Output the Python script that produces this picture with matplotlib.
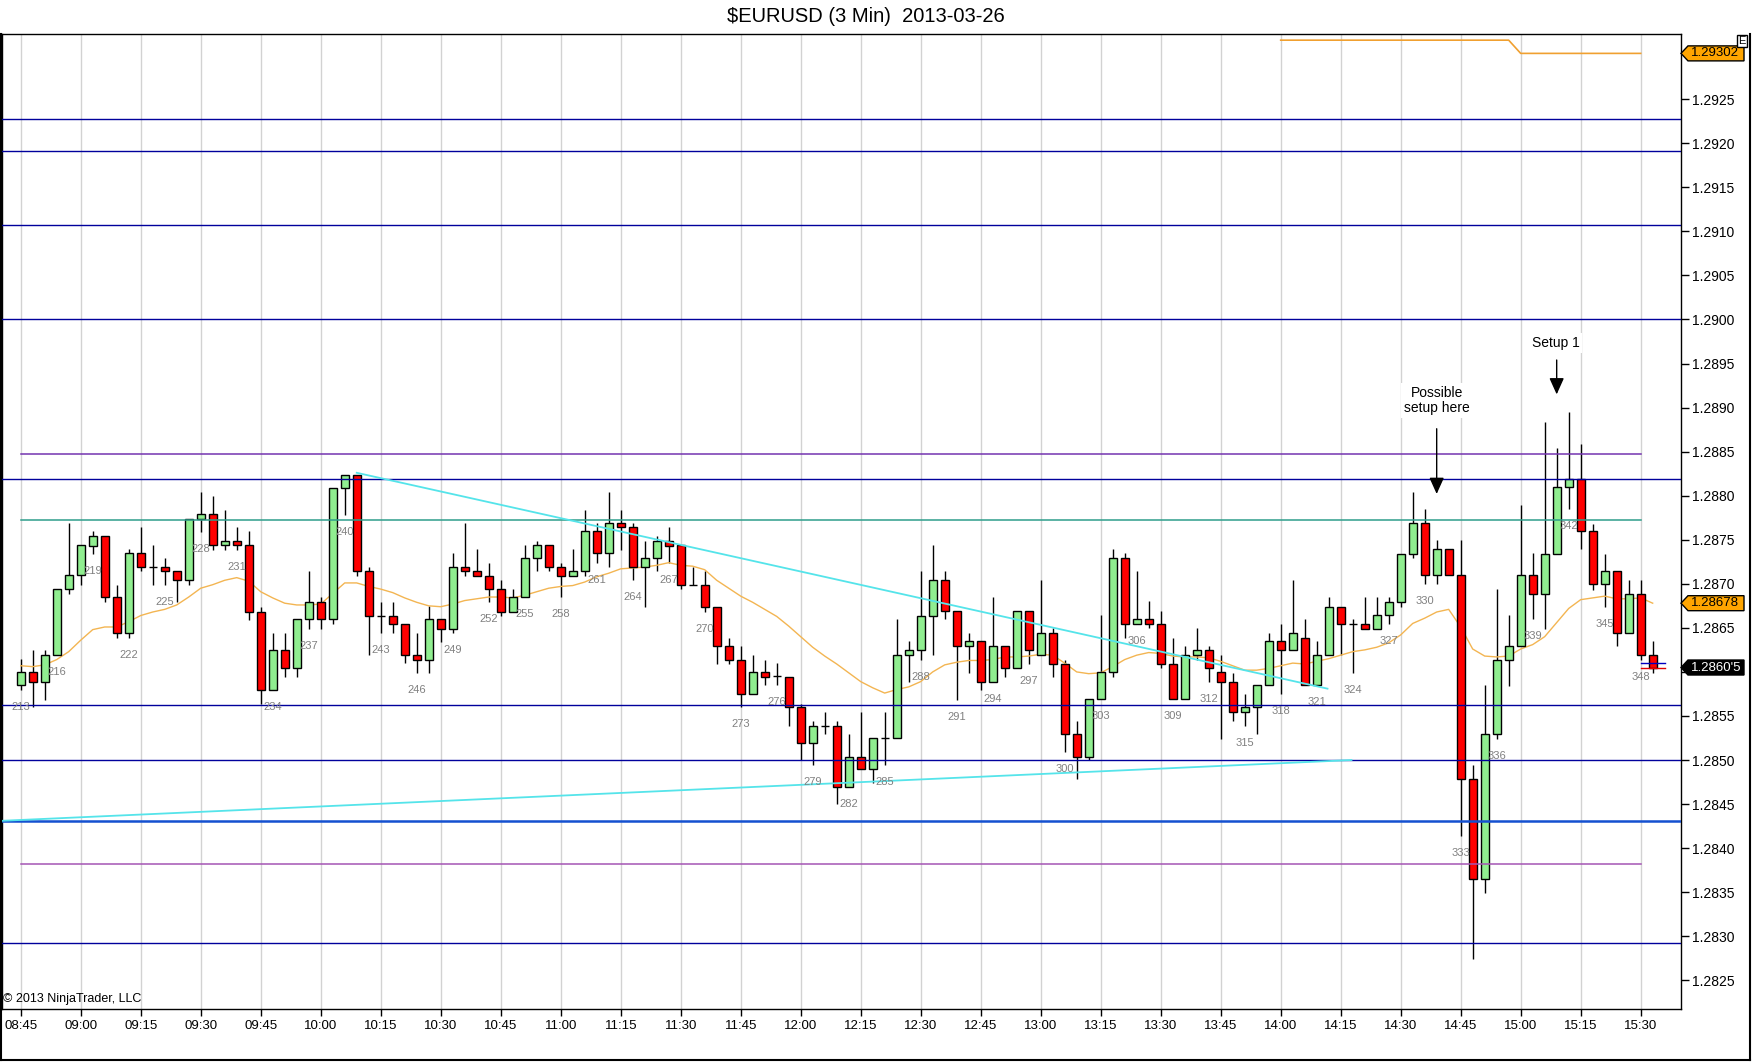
import numpy as np
import matplotlib.pyplot as plt
from matplotlib.patches import Polygon
from matplotlib.lines import Line2D

plt.rcParams['font.family'] = ['Liberation Sans', 'DejaVu Sans']

# ---- data ----
first_bar = 213

opens = [
    1.28585, 1.28600, 1.28589, 1.28619, 1.28694, 1.28710, 1.28743, 1.28754, 1.28685, 1.28644,
    1.28735, 1.28719, 1.28719, 1.28714, 1.28704, 1.28774, 1.28779, 1.28744, 1.28749, 1.28744,
    1.28668, 1.28579, 1.28625, 1.28604, 1.28660, 1.28679, 1.28660, 1.28809, 1.28824, 1.28714,
    1.28664, 1.28664, 1.28654, 1.28619, 1.28614, 1.28660, 1.28649, 1.28719, 1.28714, 1.28709,
    1.28694, 1.28668, 1.28685, 1.28729, 1.28744, 1.28719, 1.28709, 1.28714, 1.28760, 1.28735,
    1.28769, 1.28764, 1.28719, 1.28729, 1.28749, 1.28744, 1.28699, 1.28699, 1.28674, 1.28629,
    1.28614, 1.28575, 1.28600, 1.28595, 1.28594, 1.28560, 1.28519, 1.28539, 1.28539, 1.28469,
    1.28504, 1.28490, 1.28525, 1.28525, 1.28619, 1.28625, 1.28664, 1.28704, 1.28669, 1.28629,
    1.28635, 1.28589, 1.28629, 1.28604, 1.28669, 1.28619, 1.28644, 1.28609, 1.28529, 1.28504,
    1.28569, 1.28600, 1.28729, 1.28654, 1.28660, 1.28654, 1.28609, 1.28569, 1.28619, 1.28625,
    1.28600, 1.28589, 1.28554, 1.28560, 1.28585, 1.28635, 1.28625, 1.28639, 1.28585, 1.28619,
    1.28674, 1.28654, 1.28654, 1.28649, 1.28665, 1.28679, 1.28734, 1.28769, 1.28710, 1.28739,
    1.28710, 1.28479, 1.28365, 1.28530, 1.28614, 1.28629, 1.28710, 1.28689, 1.28734, 1.28810,
    1.28819, 1.28760, 1.28700, 1.28714, 1.28644, 1.28689, 1.28619,
]
highs = [
    1.28615, 1.28625, 1.28625, 1.28694, 1.28769, 1.28744, 1.28760, 1.28754, 1.28699, 1.28739,
    1.28764, 1.28744, 1.28729, 1.28714, 1.28774, 1.28804, 1.28800, 1.28784, 1.28764, 1.28760,
    1.28674, 1.28644, 1.28644, 1.28660, 1.28715, 1.28685, 1.28809, 1.28824, 1.28824, 1.28719,
    1.28679, 1.28679, 1.28654, 1.28644, 1.28675, 1.28660, 1.28735, 1.28769, 1.28740, 1.28724,
    1.28704, 1.28694, 1.28744, 1.28749, 1.28744, 1.28724, 1.28740, 1.28784, 1.28769, 1.28804,
    1.28784, 1.28769, 1.28749, 1.28754, 1.28764, 1.28744, 1.28719, 1.28715, 1.28674, 1.28639,
    1.28629, 1.28619, 1.28614, 1.28610, 1.28594, 1.28564, 1.28544, 1.28554, 1.28544, 1.28529,
    1.28554, 1.28525, 1.28554, 1.28660, 1.28635, 1.28715, 1.28744, 1.28715, 1.28669, 1.28644,
    1.28635, 1.28685, 1.28629, 1.28669, 1.28669, 1.28704, 1.28650, 1.28614, 1.28544, 1.28569,
    1.28665, 1.28739, 1.28735, 1.28715, 1.28680, 1.28669, 1.28639, 1.28629, 1.28650, 1.28629,
    1.28619, 1.28599, 1.28575, 1.28585, 1.28644, 1.28654, 1.28704, 1.28660, 1.28635, 1.28685,
    1.28674, 1.28660, 1.28685, 1.28685, 1.28685, 1.28734, 1.28804, 1.28785, 1.28750, 1.28739,
    1.28750, 1.28494, 1.28585, 1.28694, 1.28665, 1.28789, 1.28735, 1.28884, 1.28854, 1.28895,
    1.28859, 1.28768, 1.28734, 1.28714, 1.28704, 1.28704, 1.28635,
]
lows = [
    1.28579, 1.28560, 1.28568, 1.28619, 1.28689, 1.28699, 1.28734, 1.28679, 1.28639, 1.28639,
    1.28714, 1.28699, 1.28699, 1.28679, 1.28699, 1.28759, 1.28738, 1.28738, 1.28738, 1.28659,
    1.28564, 1.28579, 1.28594, 1.28594, 1.28649, 1.28649, 1.28654, 1.28778, 1.28709, 1.28619,
    1.28644, 1.28644, 1.28610, 1.28599, 1.28599, 1.28634, 1.28644, 1.28709, 1.28709, 1.28679,
    1.28664, 1.28668, 1.28685, 1.28714, 1.28714, 1.28685, 1.28709, 1.28709, 1.28724, 1.28719,
    1.28738, 1.28704, 1.28674, 1.28714, 1.28724, 1.28694, 1.28699, 1.28668, 1.28609, 1.28609,
    1.28560, 1.28575, 1.28585, 1.28585, 1.28539, 1.28500, 1.28494, 1.28529, 1.28450, 1.28469,
    1.28490, 1.28474, 1.28494, 1.28525, 1.28589, 1.28614, 1.28619, 1.28660, 1.28568, 1.28599,
    1.28579, 1.28589, 1.28594, 1.28604, 1.28609, 1.28619, 1.28594, 1.28509, 1.28479, 1.28500,
    1.28569, 1.28594, 1.28639, 1.28654, 1.28650, 1.28604, 1.28569, 1.28569, 1.28614, 1.28589,
    1.28524, 1.28544, 1.28539, 1.28529, 1.28585, 1.28575, 1.28625, 1.28585, 1.28585, 1.28619,
    1.28619, 1.28599, 1.28649, 1.28649, 1.28654, 1.28674, 1.28729, 1.28700, 1.28700, 1.28710,
    1.28414, 1.28274, 1.28349, 1.28524, 1.28584, 1.28629, 1.28660, 1.28649, 1.28734, 1.28785,
    1.28739, 1.28693, 1.28674, 1.28629, 1.28644, 1.28614, 1.28599,
]
closes = [
    1.28600, 1.28589, 1.28619, 1.28694, 1.28710, 1.28744, 1.28754, 1.28685, 1.28644, 1.28735,
    1.28719, 1.28719, 1.28714, 1.28704, 1.28774, 1.28779, 1.28744, 1.28749, 1.28744, 1.28668,
    1.28579, 1.28625, 1.28604, 1.28660, 1.28679, 1.28660, 1.28809, 1.28824, 1.28714, 1.28664,
    1.28664, 1.28654, 1.28619, 1.28614, 1.28660, 1.28649, 1.28719, 1.28714, 1.28709, 1.28694,
    1.28668, 1.28685, 1.28729, 1.28744, 1.28719, 1.28709, 1.28714, 1.28760, 1.28735, 1.28769,
    1.28764, 1.28719, 1.28729, 1.28749, 1.28743, 1.28699, 1.28699, 1.28674, 1.28629, 1.28614,
    1.28575, 1.28600, 1.28594, 1.28595, 1.28560, 1.28519, 1.28539, 1.28539, 1.28469, 1.28504,
    1.28490, 1.28525, 1.28525, 1.28619, 1.28625, 1.28664, 1.28704, 1.28669, 1.28629, 1.28635,
    1.28589, 1.28629, 1.28604, 1.28669, 1.28625, 1.28644, 1.28609, 1.28529, 1.28504, 1.28569,
    1.28600, 1.28729, 1.28654, 1.28660, 1.28654, 1.28609, 1.28569, 1.28619, 1.28625, 1.28604,
    1.28589, 1.28554, 1.28560, 1.28585, 1.28635, 1.28625, 1.28644, 1.28585, 1.28619, 1.28674,
    1.28654, 1.28654, 1.28649, 1.28665, 1.28679, 1.28734, 1.28769, 1.28710, 1.28739, 1.28710,
    1.28479, 1.28365, 1.28530, 1.28614, 1.28629, 1.28710, 1.28689, 1.28734, 1.28810, 1.28819,
    1.28760, 1.28700, 1.28714, 1.28644, 1.28689, 1.28619, 1.28605,
]
sma = [
    1.28607, 1.28606, 1.28608, 1.28614, 1.28623, 1.28636, 1.28648, 1.28651, 1.28651, 1.28657,
    1.28664, 1.28668, 1.28671, 1.28676, 1.28685, 1.28695, 1.28699, 1.28704, 1.28707, 1.28703,
    1.28691, 1.28684, 1.28678, 1.28676, 1.28676, 1.28677, 1.28689, 1.28701, 1.28701, 1.28697,
    1.28694, 1.28690, 1.28684, 1.28679, 1.28675, 1.28674, 1.28677, 1.28681, 1.28683, 1.28685,
    1.28685, 1.28684, 1.28687, 1.28691, 1.28695, 1.28697, 1.28698, 1.28702, 1.28708, 1.28712,
    1.28717, 1.28718, 1.28719, 1.28721, 1.28724, 1.28721, 1.28720, 1.28716, 1.28704, 1.28695,
    1.28686, 1.28679, 1.28671, 1.28663, 1.28652, 1.28640, 1.28628, 1.28618, 1.28609, 1.28599,
    1.28589, 1.28582, 1.28576, 1.28580, 1.28583, 1.28589, 1.28600, 1.28608, 1.28611, 1.28613,
    1.28613, 1.28614, 1.28617, 1.28617, 1.28618, 1.28620, 1.28619, 1.28610, 1.28600, 1.28598,
    1.28599, 1.28606, 1.28614, 1.28619, 1.28622, 1.28621, 1.28618, 1.28617, 1.28617, 1.28616,
    1.28612, 1.28607, 1.28602, 1.28602, 1.28604, 1.28607, 1.28610, 1.28609, 1.28612, 1.28615,
    1.28619, 1.28623, 1.28625, 1.28628, 1.28633, 1.28642, 1.28655, 1.28661, 1.28668, 1.28671,
    1.28651, 1.28626, 1.28618, 1.28617, 1.28618, 1.28626, 1.28631, 1.28640, 1.28656, 1.28672,
    1.28682, 1.28684, 1.28686, 1.28683, 1.28683, 1.28684, 1.28678,
]

time_labels = ['08:45', '09:00', '09:15', '09:30', '09:45', '10:00', '10:15', '10:30',
               '10:45', '11:00', '11:15', '11:30', '11:45', '12:00', '12:15', '12:30',
               '12:45', '13:00', '13:15', '13:30', '13:45', '14:00', '14:15', '14:30',
               '14:45', '15:00', '15:15', '15:30']

full_levels = [1.29228, 1.29191, 1.29107, 1.29000, 1.28819, 1.28562, 1.28500, 1.28292]
strong_level = 1.28431
session_levels = [1.28847, 1.28772, 1.28382]

top_line_bars = [318, 337, 338, 348]
top_line_vals = [1.29317, 1.29317, 1.29302, 1.29302]

trend_down_bars = [241.0, 321.9]
trend_down_vals = [1.28826, 1.28581]
trend_up_bars = [211.4, 323.9]
trend_up_vals = [1.28431, 1.28500]

last_price = 1.28605
sma_last = 1.28678
top_line_last = 1.29302

# ---- figure ----
W, H = 1752, 1064
fig = plt.figure(figsize=(W / 100, H / 100), dpi=100)
ax = fig.add_axes([2 / W, 55.5 / H, 1679 / W, 974.5 / H])

opens, highs, lows, closes = map(np.array, (opens, highs, lows, closes))
bars = np.arange(first_bar, first_bar + len(opens))
time_ticks = bars[::5][:len(time_labels)]
last_bar = time_ticks[-1]

ymin, ymax = 1.28218, 1.29324
ax.set_xlim(211.44, 351.36)
ax.set_ylim(ymin, ymax)

for t in time_ticks:
    ax.axvline(t, color='#d2d2d2', lw=1, zorder=0)

# candles
body_colors = np.where(closes > opens, '#90ee90', '#ff0000')
ax.vlines(bars, lows, highs, color='black', lw=1, zorder=2)
ax.bar(bars, np.abs(closes - opens), width=0.66, bottom=np.minimum(opens, closes),
       color=body_colors, edgecolor='black', linewidth=1, zorder=3)

ax.plot(bars, sma, color='#f3b552', lw=1, zorder=2.5)
ax.plot(top_line_bars, top_line_vals, color='#f0a030', lw=1.2, zorder=4)

# horizontal levels
for lv in full_levels:
    ax.axhline(lv, color='#00009c', lw=1, zorder=4)
ax.axhline(strong_level, color='#1450d0', lw=1.8, zorder=4)
for lv, col in zip(session_levels, ['#7434b0', '#2e9e8c', '#a455b4']):
    ax.plot([first_bar, last_bar], [lv, lv], color=col, lw=1.1, zorder=4)

ax.plot(trend_down_bars, trend_down_vals, color='#55e4ea', lw=1.3, zorder=4)
ax.plot(trend_up_bars, trend_up_vals, color='#55e4ea', lw=1.3, zorder=4)

# bid / ask marks at the last bar
ax.plot([bars[-1] - 1, bars[-1] + 1], [1.28610, 1.28610], color='#0000c0', lw=1, zorder=5)
ax.plot([bars[-1] - 1, bars[-1] + 1], [1.28604, 1.28604], color='#e00000', lw=1, zorder=5)

# bar numbers every third bar
for b, lo in zip(bars[::3], lows[::3]):
    ax.annotate(str(b), (b, lo), xytext=(0, -12), textcoords='offset pixels',
                ha='center', va='top', fontsize=8, color='#808080', zorder=6)

# text annotations
ax.text(331, 1.28908, 'Possible\nsetup here', ha='center', va='center', fontsize=10,
        linespacing=1.1, zorder=6, bbox=dict(fc='white', ec='none', pad=2))
ax.annotate('', xy=(331, 1.28802), xytext=(331, 1.28876),
            arrowprops=dict(arrowstyle='-|>,head_width=0.45,head_length=1.0',
                            color='black', lw=1, shrinkA=0, shrinkB=0, mutation_scale=10),
            zorder=6)
ax.text(340.9, 1.28973, 'Setup 1', ha='center', va='center', fontsize=10, zorder=6,
        bbox=dict(fc='white', ec='none', pad=2))
ax.annotate('', xy=(341, 1.28915), xytext=(341, 1.28954),
            arrowprops=dict(arrowstyle='-|>,head_width=0.45,head_length=1.0',
                            color='black', lw=1, shrinkA=0, shrinkB=0, mutation_scale=10),
            zorder=6)

ax.text(1 / 1679, 0.0097, '\u00a9 2013 NinjaTrader, LLC', transform=ax.transAxes,
        fontsize=9, va='center', ha='left', zorder=6)

# axes styling
ax.yaxis.tick_right()
y_ticks = np.arange(1.2825, 1.29251, 0.0005)
ax.set_yticks(y_ticks)
# the 1.2860 label sits under the last-price tag
ax.set_yticklabels(['' if abs(v - last_price) < 0.0001 else '%.4f' % v for v in y_ticks])
ax.set_xticks(time_ticks)
ax.set_xticklabels(time_labels)
ax.tick_params(axis='y', direction='out', length=6, width=1, pad=2, labelsize=10)
ax.tick_params(axis='x', direction='out', length=5, width=1, pad=3, labelsize=9.5)
for sp in ax.spines.values():
    sp.set_color('black')
    sp.set_linewidth(1)


# price tags on the right axis
def price_tag(price, text, fc, tc):
    px = (ymax - ymin) / 974.5
    hh = 7.5 * px
    x0, x1, xn = 1.0, 1.0 + 63 / 1679, 1.0 + 7 / 1679
    poly = Polygon([[x0, price], [xn, price + hh], [x1, price + hh],
                    [x1, price - hh], [xn, price - hh]], closed=True,
                   transform=ax.get_yaxis_transform(), fc=fc, ec='black', lw=1,
                   clip_on=False, zorder=10)
    ax.add_patch(poly)
    ax.text(1.0 + 10 / 1679, price, text, transform=ax.get_yaxis_transform(),
            ha='left', va='center', fontsize=9.5, color=tc, clip_on=False, zorder=11)


price_tag(top_line_last, '%.5f' % top_line_last, '#ffa500', 'black')
price_tag(sma_last, '%.5f' % sma_last, '#ffa500', 'black')
price_tag(last_price, "1.2860'5", 'black', 'white')

fig.text(1742 / W, 1 - 41 / H, 'E', fontsize=8, ha='center', va='center',
         bbox=dict(fc='white', ec='black', lw=1, pad=1))

fig.text(866 / W, 1 - 16 / H, '\\$EURUSD (3 Min)  2013-03-26', fontsize=14.5,
         ha='center', va='center')

# outer frame
fig.add_artist(Line2D([1 / W, 1 / W], [4.5 / H, 1 - 34 / H], color='black', lw=1.5))
fig.add_artist(Line2D([1 / W, 1749.5 / W], [4.5 / H, 4.5 / H], color='black', lw=1.5))
fig.add_artist(Line2D([1749.5 / W, 1749.5 / W], [4.5 / H, 1 - 34 / H], color='black', lw=1.5))

fig.savefig('out.png', dpi=100)
